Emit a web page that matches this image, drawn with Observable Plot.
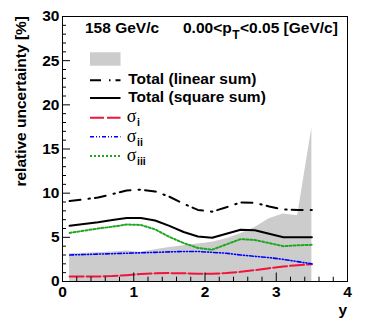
<!DOCTYPE html>
<html>
<head>
<meta charset="utf-8">
<script src="https://cdn.jsdelivr.net/npm/d3@7"></script>
<script src="https://cdn.jsdelivr.net/npm/@observablehq/plot@0.6"></script>
<style>
  html, body { margin: 0; padding: 0; background: white; }
</style>
</head>
<body>
<div id="chart"></div>
<script>
// rapidity bin centres
const rapidity = [0.1, 0.3, 0.5, 0.7, 0.9, 1.1, 1.3, 1.5, 1.7, 1.9, 2.1, 2.3, 2.5, 2.7, 2.9, 3.1, 3.3, 3.5];
// grey band (statistical / reference uncertainty) [%]
const bandTop = [3.15, 3.2, 3.25, 3.35, 3.45, 3.3, 3.6, 3.85, 4.05, 4.25, 4.45, 4.85, 5.4, 6.1, 7.1, 7.65, 7.45, 17.4];
// Total (linear sum) [%]
const totalLinear = [9.1, 9.3, 9.5, 9.9, 10.3, 10.4, 10.2, 9.6, 8.8, 8.1, 7.9, 8.4, 8.95, 8.9, 8.5, 8.15, 8.1, 8.1];
// Total (square sum) [%]
const totalSquare = [6.3, 6.5, 6.7, 6.95, 7.2, 7.2, 6.9, 6.3, 5.6, 5.1, 4.95, 5.4, 5.85, 5.8, 5.4, 5.0, 5.0, 5.0];
// sigma_i [%]
const sigmaI = [0.57, 0.57, 0.57, 0.62, 0.72, 0.85, 0.92, 0.95, 0.93, 0.88, 0.87, 0.95, 1.1, 1.28, 1.5, 1.7, 1.85, 1.95];
// sigma_ii [%]
const sigmaII = [3.0, 3.05, 3.1, 3.15, 3.2, 3.25, 3.3, 3.35, 3.4, 3.4, 3.3, 3.2, 3.0, 2.85, 2.7, 2.5, 2.25, 2.0];
// sigma_iii [%]
const sigmaIII = [5.5, 5.75, 6.0, 6.2, 6.45, 6.4, 5.9, 5.05, 4.35, 3.8, 3.6, 4.2, 4.8, 4.7, 4.35, 4.0, 4.1, 4.15];

const xMajor = [0, 1, 2, 3, 4];
const xMinor = [0.2, 0.4, 0.6, 0.8, 1.2, 1.4, 1.6, 1.8, 2.2, 2.4, 2.6, 2.8, 3.2, 3.4, 3.6, 3.8];
const yMajor = [0, 5, 10, 15, 20, 25, 30];
const yMinor = [1, 2, 3, 4, 6, 7, 8, 9, 11, 12, 13, 14, 16, 17, 18, 19, 21, 22, 23, 24, 26, 27, 28, 29];

const rows = rapidity.map((x, i) => ({
  x, band: bandTop[i], lin: totalLinear[i], sq: totalSquare[i],
  s1: sigmaI[i], s2: sigmaII[i], s3: sigmaIII[i]
}));

const W = 366, H = 331, ML = 62, MR = 19, MT = 16, MB = 50;
const PW = W - ML - MR, PH = H - MT - MB;
const FONT = "'Liberation Sans', Arial, Helvetica, sans-serif";

const col = {
  band: "#cccccc",
  red: "#f0143c",
  blue: "#0000ff",
  green: "#1fa81f"
};

const chart = Plot.plot({
  width: W, height: H,
  marginLeft: ML, marginRight: MR, marginTop: MT, marginBottom: MB,
  style: { background: "white", fontFamily: FONT, fontSize: "15.5px", fontWeight: "bold", color: "black", overflow: "visible" },
  x: { domain: [0, 4] },
  y: { domain: [0, 30] },
  marks: [
    Plot.areaY(rows, { x: "x", y1: 0, y2: "band", fill: col.band }),
    Plot.lineY(rows, { x: "x", y: "s1", stroke: col.red, strokeWidth: 2, strokeDasharray: "14,3" }),
    Plot.lineY(rows, { x: "x", y: "s2", stroke: col.blue, strokeWidth: 1.6, strokeDasharray: "4,2,1,2,1,2" }),
    Plot.lineY(rows, { x: "x", y: "s3", stroke: col.green, strokeWidth: 2, strokeDasharray: "2,2" }),
    Plot.lineY(rows, { x: "x", y: "sq", stroke: "black", strokeWidth: 2 }),
    Plot.lineY(rows, { x: "x", y: "lin", stroke: "black", strokeWidth: 2, strokeDasharray: "11,8,1.5,5" }),
    Plot.tickX(xMajor, { x: d => d, insetTop: PH - 8.5, stroke: "black", strokeWidth: 1 }),
    Plot.tickX(xMinor, { x: d => d, insetTop: PH - 4.3, stroke: "black", strokeWidth: 1 }),
    Plot.tickY(yMajor, { y: d => d, insetRight: PW - 8, stroke: "black", strokeWidth: 1 }),
    Plot.tickY(yMinor, { y: d => d, insetRight: PW - 4, stroke: "black", strokeWidth: 1 }),
    Plot.frame({ stroke: "black", strokeWidth: 1 }),
    Plot.axisX({ ticks: xMajor, tickSize: 0, tickPadding: 4, label: null, fontSize: 15.5, fontWeight: "bold", tickFormat: d => String(d) }),
    Plot.axisY({ ticks: yMajor, tickSize: 0, tickPadding: 3, label: null, fontSize: 15.5, fontWeight: "bold", tickFormat: d => String(d) })
  ]
});

document.getElementById("chart").appendChild(chart);

// annotations: titles, header and legend
const svg = d3.select(chart);
const g = svg.append("g").attr("font-family", FONT).attr("fill", "black").attr("text-anchor", "start");

// axis titles
g.append("text")
  .attr("transform", "translate(26,16) rotate(-90)")
  .attr("text-anchor", "end").attr("font-size", 15.5).attr("font-weight", "bold")
  .text("relative uncertainty [%]");
g.append("text")
  .attr("x", 347).attr("y", 315)
  .attr("text-anchor", "end").attr("font-size", 15.5).attr("font-weight", "bold")
  .text("y");

// header
g.append("text").attr("x", 85).attr("y", 33.3).attr("text-anchor", "start")
  .attr("font-size", 15.5).attr("font-weight", "bold").text("158 GeV/c");
const h2 = g.append("text").attr("x", 183).attr("y", 33.3).attr("text-anchor", "start")
  .attr("font-size", 15.5).attr("font-weight", "bold");
h2.append("tspan").text("0.00<p");
h2.append("tspan").attr("font-size", 12).attr("dy", 6).attr("dx", 0.5).text("T");
h2.append("tspan").attr("dy", -6).attr("dx", 0.5).text("<0.05 [GeV/c]");

// legend
const lx0 = 90, lx1 = 120.5, tx = 128.3;
g.append("rect").attr("x", lx0).attr("y", 52.3).attr("width", lx1 - lx0).attr("height", 13.4).attr("fill", col.band);

const legLines = [
  { y: 80.3, stroke: "black", w: 2, dash: "11,8,1.5,5", label: "Total (linear sum)", base: 83.6 },
  { y: 98, stroke: "black", w: 2, dash: null, label: "Total (square sum)", base: 101.6 }
];
legLines.forEach(d => {
  g.append("line").attr("x1", lx0).attr("x2", lx1).attr("y1", d.y).attr("y2", d.y)
    .attr("stroke", d.stroke).attr("stroke-width", d.w).attr("stroke-dasharray", d.dash);
  g.append("text").attr("x", tx).attr("y", d.base).attr("text-anchor", "start")
    .attr("font-size", 15.5).attr("font-weight", "bold").text(d.label);
});

const sig = [
  { y: 117.7, stroke: col.red, w: 2, dash: "14,3", sub: "i", base: 121.7 },
  { y: 136.7, stroke: col.blue, w: 1.6, dash: "4,2,1,2,1,2", sub: "ii", base: 141.5 },
  { y: 156, stroke: col.green, w: 2, dash: "2,2", sub: "iii", base: 161.2 }
];
sig.forEach(d => {
  g.append("line").attr("x1", lx0).attr("x2", lx1).attr("y1", d.y).attr("y2", d.y)
    .attr("stroke", d.stroke).attr("stroke-width", d.w).attr("stroke-dasharray", d.dash);
  const t = g.append("text").attr("x", tx - 1.5).attr("y", d.base).attr("text-anchor", "start");
  t.append("tspan").attr("font-family", "'Liberation Serif', 'DejaVu Serif', serif")
    .attr("font-size", 18).attr("font-weight", "normal").text("σ");
  t.append("tspan").attr("font-size", 10.5).attr("font-weight", "bold").attr("dy", 4).attr("dx", 0.5).text(d.sub);
});
</script>
</body>
</html>
